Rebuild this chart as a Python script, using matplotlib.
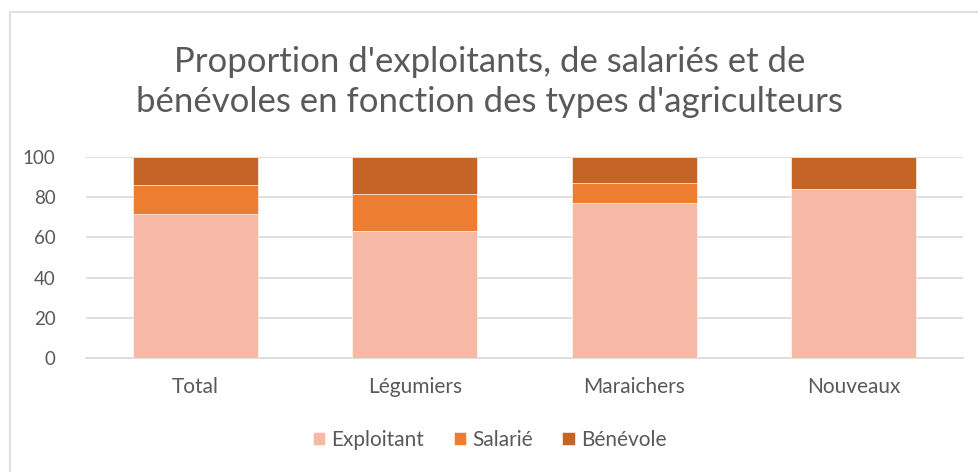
import numpy as np
import matplotlib
matplotlib.use("Agg")
import matplotlib.pyplot as plt
from matplotlib.patches import Rectangle

# Data
categories = ["Total", "Légumiers", "Maraichers", "Nouveaux"]
exploitant = [71.6, 63.3, 77.1, 83.9]
salarie = [14.6, 18.4, 9.9, 0.0]
benevole = [13.8, 18.3, 13.0, 16.1]
series_names = ["Exploitant", "Salarié", "Bénévole"]
colors = ["#F5B9A5", "#ED7D31", "#C46427"]

plt.rcParams["font.family"] = ["Lato", "DejaVu Sans"]
text_color = "#595959"

fig = plt.figure(figsize=(9.79, 4.72), dpi=100)
ax = fig.add_axes([0.0878, 0.2415, 0.8959, 0.4259])

x = np.arange(len(categories))
width = 0.57
bottom = np.zeros(len(categories))
for values, name, color in zip([exploitant, salarie, benevole], series_names, colors):
    ax.bar(x, values, width, bottom=bottom, color=color, label=name,
           edgecolor="white", linewidth=0.4, zorder=3)
    bottom += np.array(values)

ax.set_xlim(-0.5, len(categories) - 0.5)
ax.set_ylim(0, 100)
ax.set_yticks(range(0, 101, 20))
ax.yaxis.grid(True, color="#D9D9D9", linewidth=1.2, zorder=0)
ax.set_xticks(x)
ax.set_xticklabels(categories)
ax.tick_params(axis="both", length=0, colors=text_color)
ax.tick_params(axis="x", pad=14, labelsize=15)
ax.tick_params(axis="y", pad=22, labelsize=13.5)
for side in ["top", "right", "left"]:
    ax.spines[side].set_visible(False)
ax.spines["bottom"].set_color("#D9D9D9")
ax.spines["bottom"].set_linewidth(1.2)

fig.text(0.5, 0.826, "Proportion d'exploitants, de salariés et de\nbénévoles en fonction des types d'agriculteurs",
         ha="center", va="center", fontsize=25, color=text_color, linespacing=1.3)

leg = fig.legend(loc="center", bbox_to_anchor=(0.5, 0.068), ncol=3, frameon=False,
                 fontsize=15, handlelength=0.6, handleheight=0.6, handletextpad=0.3,
                 columnspacing=1.4)
for t in leg.get_texts():
    t.set_color(text_color)

# chart frame (extends past right and bottom edges)
fig.patches.append(Rectangle((10 / 979, -0.05), 1.0, 1 - 12 / 472 + 0.05, transform=fig.transFigure,
                             fill=False, edgecolor="#D9D9D9", linewidth=1.2))

fig.savefig("out.png", dpi=100)
